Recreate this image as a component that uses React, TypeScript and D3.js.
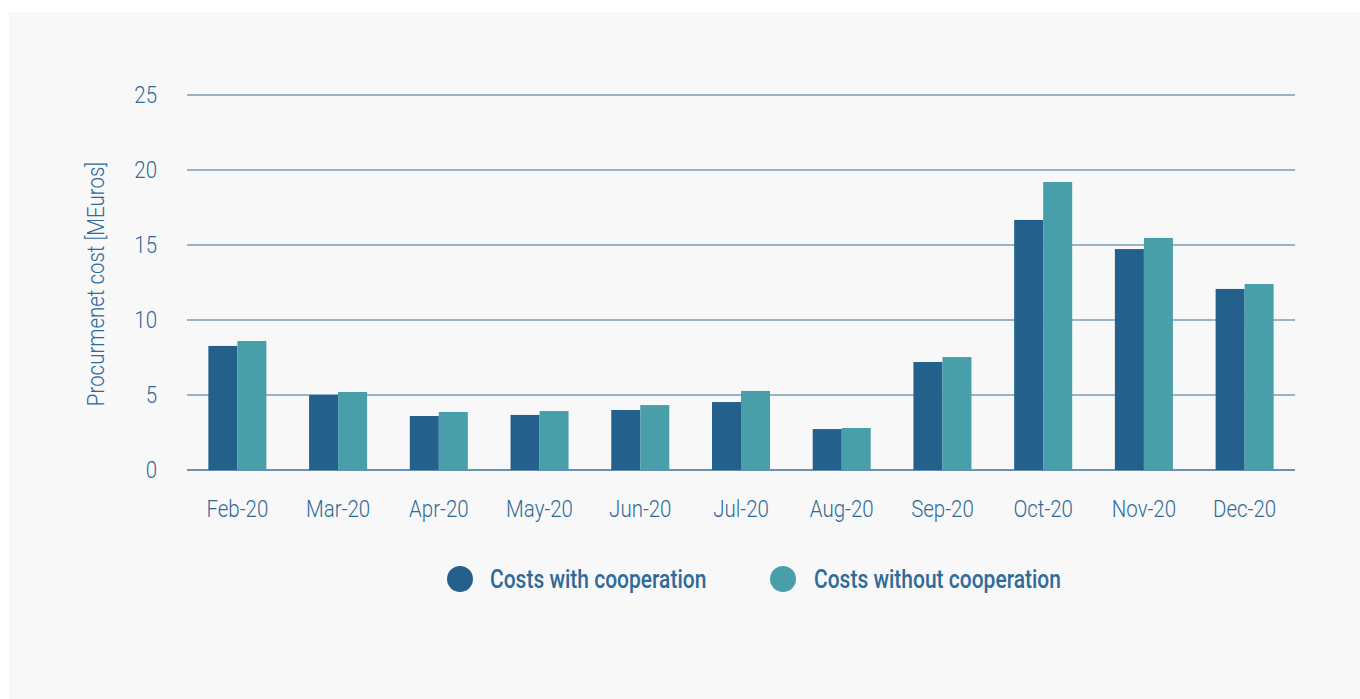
import React from "react";
import * as d3 from "d3";

const categories = ["Feb-20", "Mar-20", "Apr-20", "May-20", "Jun-20", "Jul-20", "Aug-20", "Sep-20", "Oct-20", "Nov-20", "Dec-20"];
const withCoop = [8.27, 5.0, 3.6, 3.67, 4.0, 4.53, 2.73, 7.2, 16.67, 14.73, 12.07];
const withoutCoop = [8.6, 5.2, 3.87, 3.93, 4.33, 5.27, 2.8, 7.53, 19.2, 15.47, 12.4];
const yTicks = [0, 5, 10, 15, 20, 25];
const seriesNames = ["Costs with cooperation", "Costs without cooperation"];

const DARK = "#23618c";
const TEAL = "#499fa9";
const TEXT = "#2f6a98";
const LINE = "#3a6f9a";
const FONT = "Roboto, 'Noto Sans', sans-serif";

export default function App() {
  const W = 1360, H = 699;
  const left = 187, right = 1295, top = 95, bottom = 470;
  const x = d3.scaleBand<string>().domain(categories).range([left, right]).paddingInner(0.424).paddingOuter(0.212);
  const inner = d3.scaleBand<string>().domain(["a", "b"]).range([0, x.bandwidth()]);
  const y = d3.scaleLinear().domain([0, 25]).range([bottom, top]);

  const T = (props: { x: number; y: number; anchor?: string; size: number; weight?: number; sx: number; children: React.ReactNode; rotate?: number }) => (
    <text
      transform={`translate(${props.x},${props.y})${props.rotate ? ` rotate(${props.rotate})` : ""} scale(${props.sx},1)`}
      textAnchor={props.anchor || "start"}
      fontSize={props.size}
      fontWeight={props.weight || 400}
      fill={TEXT}
      fontFamily={FONT}
    >
      {props.children}
    </text>
  );

  return (
    <svg width={W} height={H} style={{ position: "absolute", left: 0, top: 0 }}>
      <rect x={0} y={0} width={W} height={H} fill="#ffffff" />
      <rect x={9} y={12} width={W - 9} height={H - 12} fill="#f8f8f8" />
      {yTicks.map((t) => (
        <g key={t}>
          <line x1={left} x2={right} y1={y(t)} y2={y(t)} stroke={LINE} strokeWidth={t === 0 ? 1.6 : 1.2} />
          <T x={157} y={y(t) + 8} anchor="end" size={23} weight={300} sx={0.89}>{t}</T>
        </g>
      ))}
      {categories.map((c, i) => (
        <g key={c}>
          <rect x={x(c)! + inner("a")!} y={y(withCoop[i])} width={inner.bandwidth()} height={y(0) - y(withCoop[i])} fill={DARK} />
          <rect x={x(c)! + inner("b")!} y={y(withoutCoop[i])} width={inner.bandwidth()} height={y(0) - y(withoutCoop[i])} fill={TEAL} />
          <T x={x(c)! + x.bandwidth() / 2} y={517} anchor="middle" size={23} weight={300} sx={0.89}>{c}</T>
        </g>
      ))}
      <T x={104} y={284} anchor="middle" size={23} weight={300} sx={0.89} rotate={-90}>Procurmenet cost [MEuros]</T>
      <circle cx={460} cy={579} r={13} fill={DARK} />
      <T x={490} y={588} size={25} weight={500} sx={0.84}>{seriesNames[0]}</T>
      <circle cx={783} cy={579} r={13} fill={TEAL} />
      <T x={814} y={588} size={25} weight={500} sx={0.84}>{seriesNames[1]}</T>
    </svg>
  );
}
